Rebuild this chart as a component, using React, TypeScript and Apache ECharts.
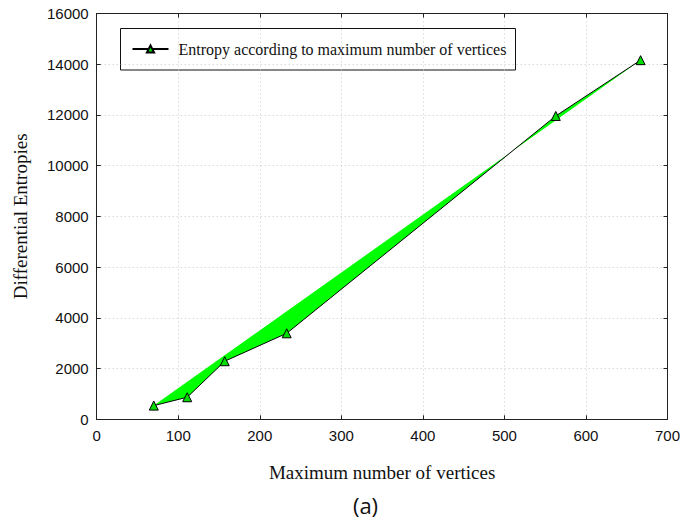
import React, { useEffect, useRef } from "react";
import * as echarts from "echarts";

const vertices = [70, 111, 157, 233, 563, 667];
const entropies = [540, 870, 2290, 3390, 11960, 14160];
const seriesName = "Entropy according to maximum number of vertices";
const xTitle = "Maximum number of vertices";
const yTitle = "Differential Entropies";
const caption = "(a)";

export default function App() {
  const ref = useRef<HTMLDivElement>(null);
  useEffect(() => {
    if (!ref.current) return;
    const chart = echarts.init(ref.current, undefined, { renderer: "svg" });
    const pairs = vertices.map((v, i) => [v, entropies[i]]);
    const frameAxis = {
      type: "value",
      axisLine: { show: true, onZero: false, lineStyle: { color: "#222", width: 1 } },
      axisTick: { show: true, inside: true, length: 4, lineStyle: { color: "#222" } },
      axisLabel: { show: false },
      splitLine: { show: false },
    };
    chart.setOption({
      animation: false,
      backgroundColor: "#ffffff",
      grid: {
        left: 96.7,
        top: 13.5,
        width: 573.3,
        height: 405.8,
      },
      xAxis: [
        {
          type: "value",
          min: 0,
          max: 700,
          interval: 100,
          axisLine: { show: true, onZero: false, lineStyle: { color: "#222", width: 1 } },
          axisTick: { show: true, inside: true, length: 4, lineStyle: { color: "#222" } },
          axisLabel: { color: "#111", fontFamily: "Liberation Sans", fontSize: 15, margin: 9 },
          splitLine: { show: true, lineStyle: { color: "#c8c8c8", type: [1, 3], width: 1 } },
          name: xTitle,
          nameLocation: "middle",
          nameGap: 44,
          nameTextStyle: { color: "#111", fontFamily: "Liberation Serif", fontSize: 19 },
        },
        { ...frameAxis, position: "top", min: 0, max: 700, interval: 100 },
      ],
      yAxis: [
        {
          type: "value",
          min: 0,
          max: 16000,
          interval: 2000,
          axisLine: { show: true, onZero: false, lineStyle: { color: "#222", width: 1 } },
          axisTick: { show: true, inside: true, length: 4, lineStyle: { color: "#222" } },
          axisLabel: {
            color: "#111",
            fontFamily: "Liberation Sans",
            fontSize: 15,
            margin: 8,
            formatter: (v: number) => String(v),
          },
          splitLine: { show: true, lineStyle: { color: "#c8c8c8", type: [1, 3], width: 1 } },
          name: yTitle,
          nameLocation: "middle",
          nameGap: 67,
          nameRotate: 90,
          nameTextStyle: { color: "#111", fontFamily: "Liberation Serif", fontSize: 19 },
        },
        { ...frameAxis, position: "right", min: 0, max: 16000, interval: 2000 },
      ],
      legend: {
        show: true,
        left: 131.5,
        top: 41,
        padding: 0,
        itemWidth: 36,
        itemHeight: 9,
        textStyle: {
          color: "#111",
          fontFamily: "Liberation Serif",
          fontSize: 16,
          padding: [0, 0, 0, 5],
        },
        data: [seriesName],
      },
      graphic: [
        {
          type: "rect",
          shape: { x: 120.5, y: 28.5, width: 395, height: 41.5 },
          style: { fill: "transparent", stroke: "#111", lineWidth: 1 },
          z: 0,
        },
        {
          type: "text",
          x: 365.5,
          y: 505,
          style: {
            text: caption,
            fontFamily: "Open Sans",
            fontSize: 22,
            fill: "#111",
            align: "center",
            verticalAlign: "middle",
          },
        },
      ],
      series: [
        {
          type: "custom",
          name: "fill",
          silent: true,
          z: 1,
          data: [pairs[0]],
          encode: { x: 0, y: 1 },
          renderItem: (params: any, api: any) => {
            if (params.dataIndex !== 0) return null;
            const pts = pairs.map((p) => api.coord(p));
            return {
              type: "polygon",
              shape: { points: pts },
              style: { fill: "#00ff00", stroke: "none" },
            };
          },
        },
        {
          type: "line",
          name: seriesName,
          z: 3,
          data: pairs,
          symbol: "triangle",
          symbolSize: 9,
          lineStyle: { color: "#000", width: 1 },
          itemStyle: { color: "#00dd00", borderColor: "#000", borderWidth: 1 },
        },
      ],
    });
    return () => chart.dispose();
  }, []);
  return (
    <div
      ref={ref}
      style={{ position: "fixed", left: 0, top: 0, width: 683, height: 523, background: "#fff" }}
    />
  );
}
